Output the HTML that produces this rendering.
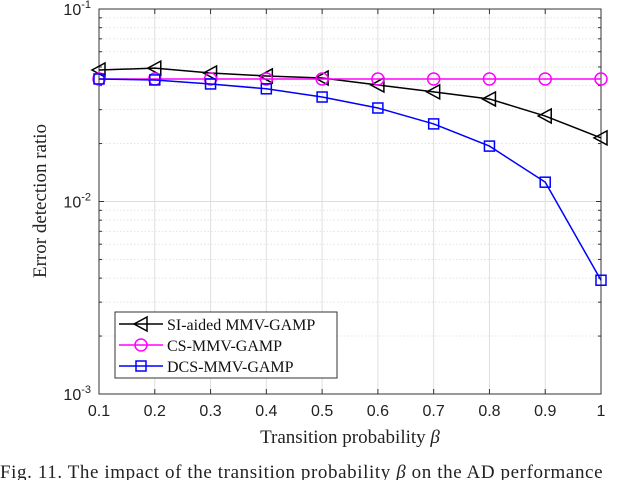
<!DOCTYPE html>
<html><head><meta charset="utf-8"><style>
body{margin:0;background:#fff;width:640px;height:480px;overflow:hidden}
svg text{font-family:"Liberation Sans",sans-serif}
.serif{font-family:"Liberation Serif",serif}
</style></head><body>
<svg id="chart" width="640" height="480">
<g id="grid"></g>
<g id="axes"></g>
<g id="series"></g>
<text class="serif" x="350" y="443" text-anchor="middle" font-size="19" fill="#222">Transition probability <tspan font-style="italic">β</tspan></text>
<text class="serif" transform="translate(46,201) rotate(-90)" text-anchor="middle" font-size="19" fill="#222">Error detection ratio</text>
<text class="serif" x="0" y="478" font-size="19" letter-spacing="0.6" fill="#222">Fig. 11.   The impact of the transition probability <tspan font-style="italic">β</tspan> on the AD performance</text>
<g>
<rect x="115" y="312" width="222" height="66" fill="#fff" stroke="#333" stroke-width="1"/>
<g><line x1="119" y1="324" x2="163" y2="324" stroke="#000" stroke-width="1.5"/><polygon points="134,324 147,317 147,331" fill="none" stroke="#000" stroke-width="1.5"/><text class="serif" x="167" y="330" font-size="16" fill="#111">SI-aided MMV-GAMP</text></g>
<g><line x1="119" y1="345" x2="163" y2="345" stroke="#f0f" stroke-width="1.5"/><circle cx="141" cy="345" r="6" fill="none" stroke="#f0f" stroke-width="1.5"/><text class="serif" x="167" y="351" font-size="16" fill="#111">CS-MMV-GAMP</text></g>
<g><line x1="119" y1="366" x2="163" y2="366" stroke="#00f" stroke-width="1.5"/><rect x="136" y="361" width="10" height="10" fill="none" stroke="#00f" stroke-width="1.5"/><text class="serif" x="167" y="372" font-size="16" fill="#111">DCS-MMV-GAMP</text></g>
</g>
</svg>
<script>
const categories=[0.1,0.2,0.3,0.4,0.5,0.6,0.7,0.8,0.9,1];
const siValues=[0.0482,0.0493,0.0465,0.0449,0.0438,0.0403,0.0371,0.0341,0.0278,0.0214];
const csValues=[0.0433,0.0433,0.0433,0.0433,0.0433,0.0433,0.0433,0.0433,0.0433,0.0433];
const dcsValues=[0.0433,0.0428,0.0408,0.0385,0.0349,0.0306,0.0253,0.0194,0.0126,0.0039];
const xTicks=[0.1,0.2,0.3,0.4,0.5,0.6,0.7,0.8,0.9,1];
const xTickLabels=["0.1","0.2","0.3","0.4","0.5","0.6","0.7","0.8","0.9","1"];
const yDecades=[-3,-2,-1];
const L=99,R=601,T=9,B=394;
const NS="http://www.w3.org/2000/svg";
function xs(v){return L+(v-0.1)/(0.9)*(R-L);}
function ys(v){return B-(Math.log10(v)+3)/2*(B-T);}
function mk(tag,attrs,parent){const e=document.createElementNS(NS,tag);for(const k in attrs)e.setAttribute(k,attrs[k]);parent.appendChild(e);return e;}
const grid=document.getElementById('grid'),axes=document.getElementById('axes'),ser=document.getElementById('series');
mk('rect',{x:L,y:T,width:R-L,height:B-T,fill:'#fff'},grid);
xTicks.forEach(v=>{const l=mk('line',{x1:xs(v),x2:xs(v),y1:T,y2:B,stroke:'#dedede','stroke-width':1},grid);

});
for(let d=-3;d<-1;d++){for(let m=1;m<10;m++){const v=m*Math.pow(10,d);const y=ys(v);
const l=mk('line',{x1:L,x2:R,y1:y,y2:y,stroke:m===1?'#dedede':'#e4e4e4','stroke-width':1,'stroke-dasharray':m===1?'':'1.5,2'},grid);


if(m>1){mk('line',{x1:L,x2:L+3,y1:y,y2:y,stroke:'#333'},axes);mk('line',{x1:R,x2:R-3,y1:y,y2:y,stroke:'#333'},axes);}}}
mk('rect',{x:L,y:T,width:R-L,height:B-T,fill:'none',stroke:'#333','stroke-width':1},axes);
xTicks.forEach((v,i)=>{mk('line',{x1:xs(v),x2:xs(v),y1:B,y2:B-5,stroke:'#333'},axes);mk('line',{x1:xs(v),x2:xs(v),y1:T,y2:T+5,stroke:'#333'},axes);
const t=mk('text',{x:xs(v),y:B+22,'text-anchor':'middle','font-size':16,fill:'#222'},axes);t.textContent=xTickLabels[i];

});
yDecades.forEach(d=>{const y=ys(Math.pow(10,d));mk('line',{x1:L,x2:L+5,y1:y,y2:y,stroke:'#333'},axes);mk('line',{x1:R,x2:R-5,y1:y,y2:y,stroke:'#333'},axes);
const t=mk('text',{x:L-8,y:y+6,'text-anchor':'end','font-size':16,fill:'#222'},axes);t.innerHTML='10<tspan dy="-7" font-size="11">'+d+'</tspan>';

});
function drawSeries(vals,color,marker,name){
const pts=vals.map((v,i)=>xs(categories[i])+','+ys(v)).join(' ');
const pl=mk('polyline',{points:pts,fill:'none',stroke:color,'stroke-width':1.5},ser);


vals.forEach((v,i)=>{const x=xs(categories[i]),y=ys(v);let m;
if(marker==='tri')m=mk('polygon',{points:(x-7)+','+y+' '+(x+6)+','+(y-7)+' '+(x+6)+','+(y+7),fill:'none',stroke:color,'stroke-width':1.5},ser);
else if(marker==='circ')m=mk('circle',{cx:x,cy:y,r:6,fill:'none',stroke:color,'stroke-width':1.5},ser);
else m=mk('rect',{x:x-5,y:y-5,width:10,height:10,fill:'none',stroke:color,'stroke-width':1.5},ser);

});}
drawSeries(siValues,'#000','tri','si-aided');
drawSeries(csValues,'#f0f','circ','cs-mmv');
drawSeries(dcsValues,'#00f','sq','dcs-mmv');
</script>
</body></html>
